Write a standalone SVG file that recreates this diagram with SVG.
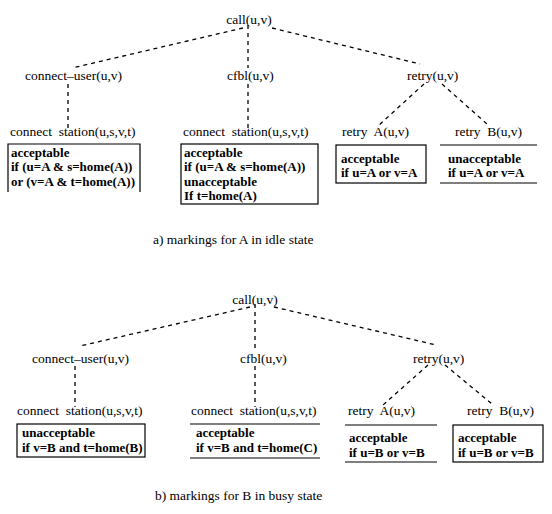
<svg xmlns="http://www.w3.org/2000/svg" width="552" height="514" viewBox="0 0 552 514" font-family="'Liberation Serif', 'Times New Roman', Times, serif">
<style>
.n{font-family:'Liberation Serif','Times New Roman',Times,serif;font-size:13.5px}
.b{font-family:'Liberation Serif','Times New Roman',Times,serif;font-size:13px;font-weight:bold}
.c{font-family:'Liberation Serif','Times New Roman',Times,serif;font-size:13.5px}
.d{stroke:#000;stroke-width:1.3;stroke-dasharray:4 4;fill:none}
.bx{stroke:#000;stroke-width:1.2;fill:none}
</style>
<rect width="552" height="514" fill="#fff"/>
<g id="connectors">
<line class="d" x1="243" y1="28" x2="72" y2="68"/>
<line class="d" x1="248" y1="25" x2="248" y2="68"/>
<line class="d" x1="272" y1="28" x2="420" y2="64"/>
<line class="d" x1="68" y1="84" x2="68" y2="128"/>
<line class="d" x1="248" y1="84" x2="248" y2="128"/>
<line class="d" x1="424" y1="84" x2="378" y2="126"/>
<line class="d" x1="442" y1="84" x2="487" y2="124"/>
<line class="d" x1="250" y1="307" x2="80" y2="346"/>
<line class="d" x1="255" y1="304" x2="255" y2="348"/>
<line class="d" x1="274" y1="307" x2="436" y2="345"/>
<line class="d" x1="75" y1="366" x2="75" y2="407"/>
<line class="d" x1="255" y1="366" x2="255" y2="407"/>
<line class="d" x1="428" y1="365" x2="383" y2="405"/>
<line class="d" x1="445" y1="365" x2="492" y2="404"/>
</g>
<g id="a-call"><text class="n" x="249" y="24" text-anchor="middle">call(u,v)</text></g>
<g id="a-connect-user"><text class="n" x="25" y="80">connect–user(u,v)</text></g>
<g id="a-cfbl"><text class="n" x="227" y="80">cfbl(u,v)</text></g>
<g id="a-retry"><text class="n" x="407" y="80">retry(u,v)</text></g>
<g id="a-connect-station-1">
<text class="n" x="10" y="136" xml:space="preserve">connect  station(u,s,v,t)</text>
<path class="bx" d="M8,192 V144 H140 V192"/>
<text class="b" x="11" y="157">acceptable</text>
<text class="b" x="11" y="171">if (u=A &amp; s=home(A))</text>
<text class="b" x="11" y="186">or (v=A &amp; t=home(A))</text>
</g>
<g id="a-connect-station-2">
<text class="n" x="183" y="136" xml:space="preserve">connect  station(u,s,v,t)</text>
<rect class="bx" x="181" y="144" width="137" height="60"/>
<text class="b" x="184" y="157">acceptable</text>
<text class="b" x="184" y="171">if (u=A &amp; s=home(A))</text>
<text class="b" x="184" y="186">unacceptable</text>
<text class="b" x="184" y="200">If t=home(A)</text>
</g>
<g id="a-retry-A">
<text class="n" x="342" y="136" xml:space="preserve">retry  A(u,v)</text>
<rect class="bx" x="336" y="145" width="90" height="38"/>
<text class="b" x="341" y="163">acceptable</text>
<text class="b" x="341" y="177">if u=A or v=A</text>
</g>
<g id="a-retry-B">
<text class="n" x="455" y="136" xml:space="preserve">retry  B(u,v)</text>
<line class="bx" x1="440" y1="145" x2="537" y2="145"/>
<line class="bx" x1="440" y1="183" x2="537" y2="183"/>
<text class="b" x="448" y="163">unacceptable</text>
<text class="b" x="448" y="177">if u=A or v=A</text>
</g>
<g id="a-caption"><text class="c" x="153" y="244">a) markings for A in idle state</text></g>

<g id="b-call"><text class="n" x="255" y="304" text-anchor="middle">call(u,v)</text></g>
<g id="b-connect-user"><text class="n" x="32" y="363">connect–user(u,v)</text></g>
<g id="b-cfbl"><text class="n" x="240" y="363">cfbl(u,v)</text></g>
<g id="b-retry"><text class="n" x="413" y="363">retry(u,v)</text></g>
<g id="b-connect-station-1">
<text class="n" x="17" y="415" xml:space="preserve">connect  station(u,s,v,t)</text>
<rect class="bx" x="17" y="424" width="128" height="33"/>
<text class="b" x="22" y="437">unacceptable</text>
<text class="b" x="22" y="452">if v=B and t=home(B)</text>
</g>
<g id="b-connect-station-2">
<text class="n" x="191" y="415" xml:space="preserve">connect  station(u,s,v,t)</text>
<line class="bx" x1="190" y1="424" x2="320" y2="424"/>
<line class="bx" x1="190" y1="458" x2="320" y2="458"/>
<text class="b" x="196" y="437">acceptable</text>
<text class="b" x="196" y="452">if v=B and t=home(C)</text>
</g>
<g id="b-retry-A">
<text class="n" x="348" y="415" xml:space="preserve">retry  A(u,v)</text>
<line class="bx" x1="345" y1="425" x2="437" y2="425"/>
<line class="bx" x1="345" y1="462" x2="437" y2="462"/>
<text class="b" x="349" y="442">acceptable</text>
<text class="b" x="349" y="457">if u=B or v=B</text>
</g>
<g id="b-retry-B">
<text class="n" x="467" y="415" xml:space="preserve">retry  B(u,v)</text>
<rect class="bx" x="453" y="425" width="90" height="37"/>
<text class="b" x="458" y="442">acceptable</text>
<text class="b" x="458" y="457">if u=B or v=B</text>
</g>
<g id="b-caption"><text class="c" x="155" y="500">b) markings for B in busy state</text></g>
</svg>
